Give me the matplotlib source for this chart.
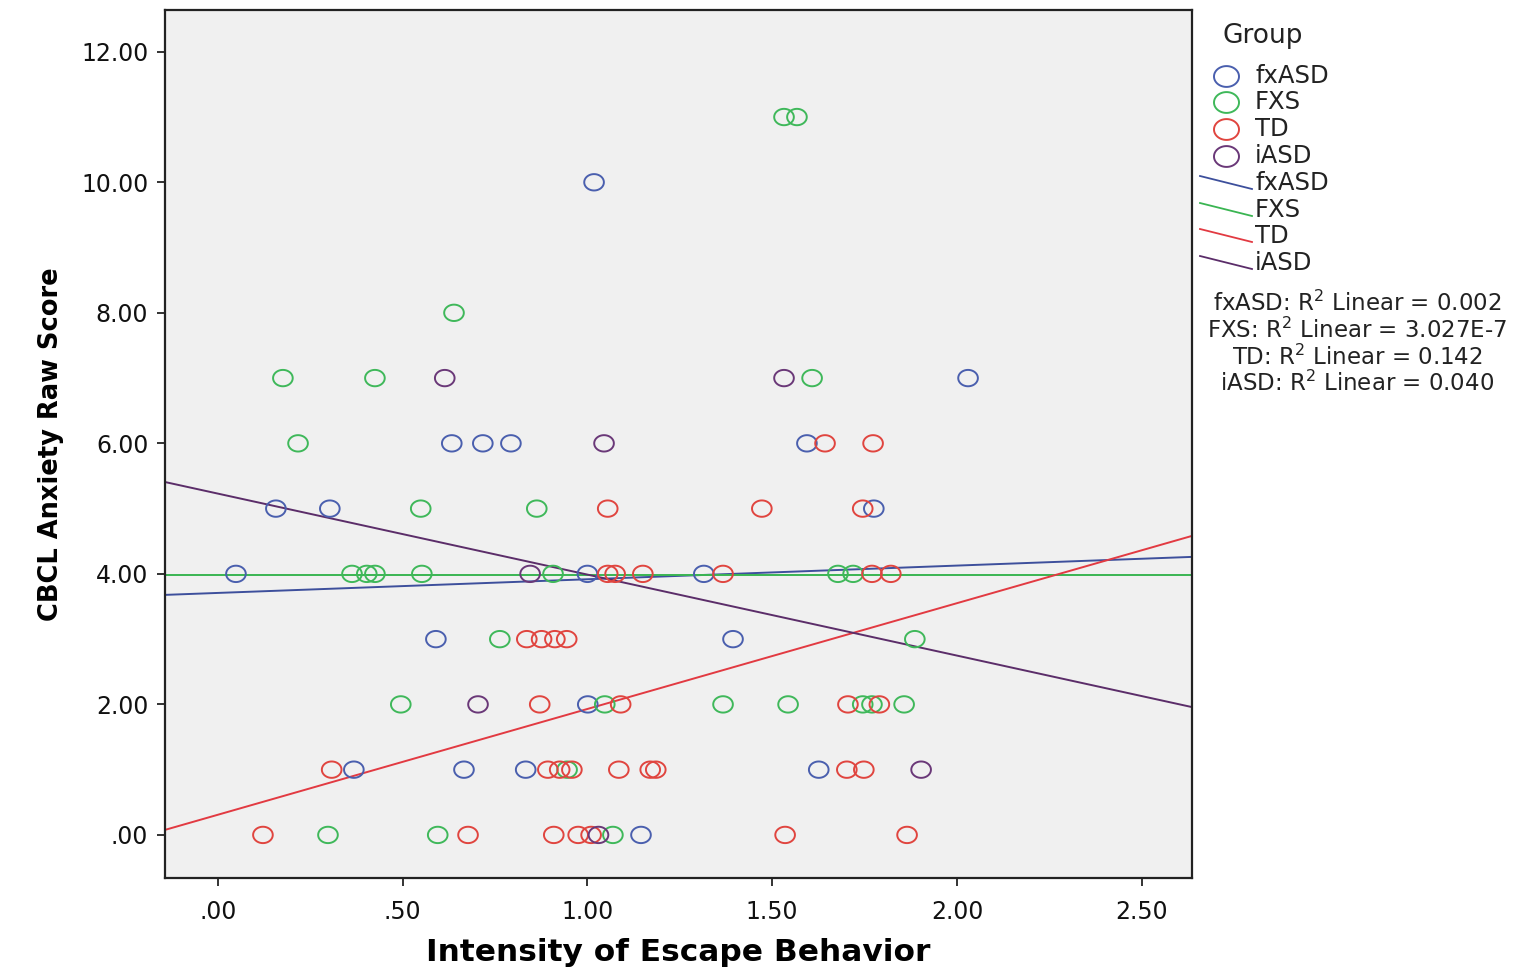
import matplotlib
matplotlib.use("Agg")
import matplotlib.pyplot as plt
from matplotlib.lines import Line2D
from matplotlib.path import Path
import numpy as np

plt.rcParams['font.family'] = ['DejaVu Sans']
plt.rcParams['mathtext.fontset'] = 'dejavusans'

groups = ["fxASD", "FXS", "TD", "iASD"]
colors = {"fxASD": "#4a5fae", "FXS": "#3fb85a", "TD": "#e0453f", "iASD": "#6a3878"}
line_colors = {"fxASD": "#3d4f9c", "FXS": "#3ab552", "TD": "#e23a42", "iASD": "#5b2d69"}

fxASD_x = [1.018, 2.030, 0.633, 0.717, 0.793, 1.594, 0.157, 0.303, 1.775, 0.049, 1.000, 1.315,
           0.590, 1.394, 1.001, 0.368, 0.666, 0.833, 1.626, 1.145]
fxASD_y = [10, 7, 6, 6, 6, 6, 5, 5, 5, 4, 4, 4, 3, 3, 2, 1, 1, 1, 1, 0]

FXS_x = [1.532, 1.567, 0.639, 0.176, 0.425, 1.608, 0.217, 0.549, 0.863, 0.363, 0.403, 0.425,
         0.552, 0.907, 1.678, 1.719, 0.763, 1.886, 0.495, 1.047, 1.367, 1.543, 1.745, 1.770,
         1.857, 0.945, 0.298, 0.595, 1.069]
FXS_y = [11, 11, 8, 7, 7, 7, 6, 5, 5, 4, 4, 4, 4, 4, 4, 4, 3, 3, 2, 2, 2, 2, 2, 2, 2, 1, 0, 0, 0]

TD_x = [1.643, 1.773, 1.055, 1.472, 1.745, 1.055, 1.075, 1.150, 1.367, 1.770, 1.821,
        0.836, 0.876, 0.912, 0.944, 0.871, 1.090, 1.705, 1.790,
        0.308, 0.893, 0.925, 0.958, 1.085, 1.170, 1.185, 1.702, 1.748,
        0.122, 0.677, 0.909, 0.975, 1.010, 1.535, 1.865]
TD_y = [6, 6, 5, 5, 5, 4, 4, 4, 4, 4, 4, 3, 3, 3, 3, 2, 2, 2, 2,
        1, 1, 1, 1, 1, 1, 1, 1, 1, 0, 0, 0, 0, 0, 0, 0]

iASD_x = [0.614, 1.532, 1.045, 0.845, 0.704, 1.903, 1.030]
iASD_y = [7, 7, 6, 4, 2, 1, 0]

# fit lines (intercept, slope)
fit_intercepts = [3.708, 3.98, 0.309, 5.23]
fit_slopes = [0.2095, 0.0, 1.621, -1.241]
r2_labels = ["fxASD: R$^2$ Linear = 0.002", "FXS: R$^2$ Linear = 3.027E-7",
             "TD: R$^2$ Linear = 0.142", "iASD: R$^2$ Linear = 0.040"]

xticks = [0.0, 0.5, 1.0, 1.5, 2.0, 2.5]
xticklabels = [".00", ".50", "1.00", "1.50", "2.00", "2.50"]
yticks = [0, 2, 4, 6, 8, 10, 12]
yticklabels = [".00", "2.00", "4.00", "6.00", "8.00", "10.00", "12.00"]

data = {"fxASD": (fxASD_x, fxASD_y), "FXS": (FXS_x, FXS_y),
        "TD": (TD_x, TD_y), "iASD": (iASD_x, iASD_y)}

# slightly wide open-ellipse marker
th = np.linspace(0, 2 * np.pi, 73)
ellipse = Path(np.column_stack([1.2 * np.cos(th), np.sin(th)]), closed=True)

W, H = 1527, 973
fig = plt.figure(figsize=(W / 100, H / 100), dpi=100)
fig.patch.set_facecolor("white")
ax = fig.add_axes([165 / W, 1 - 878 / H, (1192 - 165) / W, (878 - 10) / H])
ax.set_facecolor("#f0f0f0")

for g in groups:
    xs, ys = data[g]
    ax.scatter(xs, ys, s=200, marker=ellipse, facecolors="none", edgecolors=colors[g],
               linewidths=1.4, zorder=3)

for g, b0, b1 in zip(groups, fit_intercepts, fit_slopes):
    ax.axline((0, b0), slope=b1, color=line_colors[g], lw=1.4, zorder=2)

ax.set_xlim(-0.143, 2.636)
ax.set_ylim(-0.66, 12.64)
ax.set_xticks(xticks)
ax.set_xticklabels(xticklabels)
ax.set_yticks(yticks)
ax.set_yticklabels(yticklabels)
ax.tick_params(axis="both", labelsize=17, length=6, width=1.2, color="#111111", labelcolor="#111111")
ax.tick_params(axis="x", pad=10)
ax.tick_params(axis="y", pad=6)
for sp in ax.spines.values():
    sp.set_linewidth(1.6)
    sp.set_color("#222222")

ax.set_xlabel("Intensity of Escape Behavior", fontsize=22.5, fontweight="bold", labelpad=10)
ax.set_ylabel("CBCL Anxiety Raw Score", fontsize=18.5, fontweight="bold", labelpad=12)

# legend drawn manually in figure pixel coordinates
def fx(px):
    return px / W

def fy(py):
    return 1 - py / H

fig.text(fx(1222), fy(36), "Group", fontsize=19, va="center", ha="left", color="#222222")
ys_marker = [76, 102, 129, 156]
for g, py in zip(groups, ys_marker):
    fig.add_artist(Line2D([fx(1226)], [fy(py)], marker=ellipse, markersize=18, markerfacecolor="none",
                          markeredgecolor=colors[g], markeredgewidth=1.4, linestyle="none"))
    fig.text(fx(1255), fy(py), g, fontsize=17.5, va="center", ha="left", color="#222222")
ys_line = [183, 210, 236, 263]
for g, py in zip(groups, ys_line):
    fig.add_artist(Line2D([fx(1200), fx(1252)], [fy(py - 7), fy(py + 6)], color=line_colors[g], lw=1.3))
    fig.text(fx(1255), fy(py), g, fontsize=17.5, va="center", ha="left", color="#222222")
ys_r2 = [303, 330, 357, 383]
for lbl, py in zip(r2_labels, ys_r2):
    fig.text(fx(1357), fy(py), lbl, fontsize=16.5, va="center", ha="center", color="#222222")

fig.savefig("out.png", dpi=100, facecolor="white")
